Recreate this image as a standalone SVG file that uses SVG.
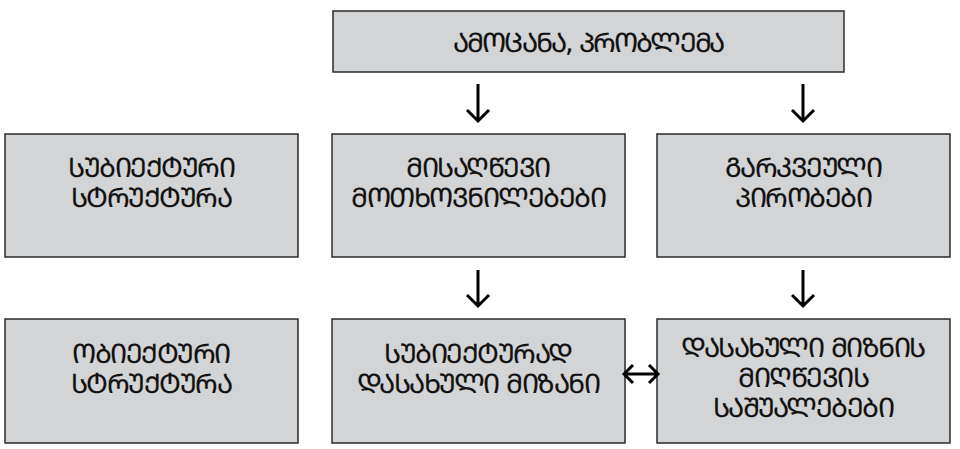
<svg xmlns="http://www.w3.org/2000/svg" width="960" height="449" viewBox="0 0 960 449">
<defs>
<style>
.box{fill:#d3d4d6;stroke:#2a2a2a;stroke-width:1.5}
.t{font-family:"DejaVu Sans",sans-serif;font-size:27px;letter-spacing:-1.5px;fill:#111;stroke:#111;stroke-width:0.15;text-anchor:middle}
.tt{letter-spacing:-1.8px}
.arr{fill:none;stroke:#000;stroke-width:3}
</style>
</defs>
<rect width="960" height="449" fill="#fff"/>
<g id="n-top"><rect class="box" x="333" y="11" width="511" height="61"/><text class="t tt" x="588" y="52">ᲐᲛᲝᲪᲐᲜᲐ, ᲞᲠᲝᲑᲚᲔᲛᲐ</text></g>
<g id="n-subj-struct"><rect class="box" x="5" y="134" width="293" height="123"/><text class="t" x="151" y="177">ᲡᲣᲑᲘᲔᲥᲢᲣᲠᲘ</text><text class="t" x="151" y="207">ᲡᲢᲠᲣᲥᲢᲣᲠᲐ</text></g>
<g id="n-needs"><rect class="box" x="332" y="134" width="293" height="123"/><text class="t" x="478" y="177">ᲛᲘᲡᲐᲦᲬᲔᲕᲘ</text><text class="t" x="478" y="207">ᲛᲝᲗᲮᲝᲕᲜᲘᲚᲔᲑᲔᲑᲘ</text></g>
<g id="n-cond"><rect class="box" x="657" y="134" width="293" height="123"/><text class="t" x="803" y="177">ᲒᲐᲠᲙᲕᲔᲣᲚᲘ</text><text class="t" x="803" y="207">ᲞᲘᲠᲝᲑᲔᲑᲘ</text></g>
<g id="n-obj-struct"><rect class="box" x="5" y="319" width="293" height="124"/><text class="t" x="151" y="363">ᲝᲑᲘᲔᲥᲢᲣᲠᲘ</text><text class="t" x="151" y="393">ᲡᲢᲠᲣᲥᲢᲣᲠᲐ</text></g>
<g id="n-goal"><rect class="box" x="332" y="319" width="293" height="124"/><text class="t" x="478" y="363">ᲡᲣᲑᲘᲔᲥᲢᲣᲠᲐᲓ</text><text class="t" x="478" y="393">ᲓᲐᲡᲐᲮᲣᲚᲘ ᲛᲘᲖᲐᲜᲘ</text></g>
<g id="n-means"><rect class="box" x="657" y="319" width="293" height="124"/><text class="t" x="803" y="357">ᲓᲐᲡᲐᲮᲣᲚᲘ ᲛᲘᲖᲜᲘᲡ</text><text class="t" x="803" y="387">ᲛᲘᲦᲬᲔᲕᲘᲡ</text><text class="t" x="803" y="417">ᲡᲐᲨᲣᲐᲚᲔᲑᲔᲑᲘ</text></g>
<g id="connectors">
<path class="arr" d="M478 84V121M467 110L478 121L489 110"/>
<path class="arr" d="M803 84V121M792 110L803 121L814 110"/>
<path class="arr" d="M478 270V306M467 295L478 306L489 295"/>
<path class="arr" d="M803 270V306M792 295L803 306L814 295"/>
<path class="arr" d="M624 374H658M633 365L624 374L633 383M649 365L658 374L649 383"/>
</g>
</svg>
